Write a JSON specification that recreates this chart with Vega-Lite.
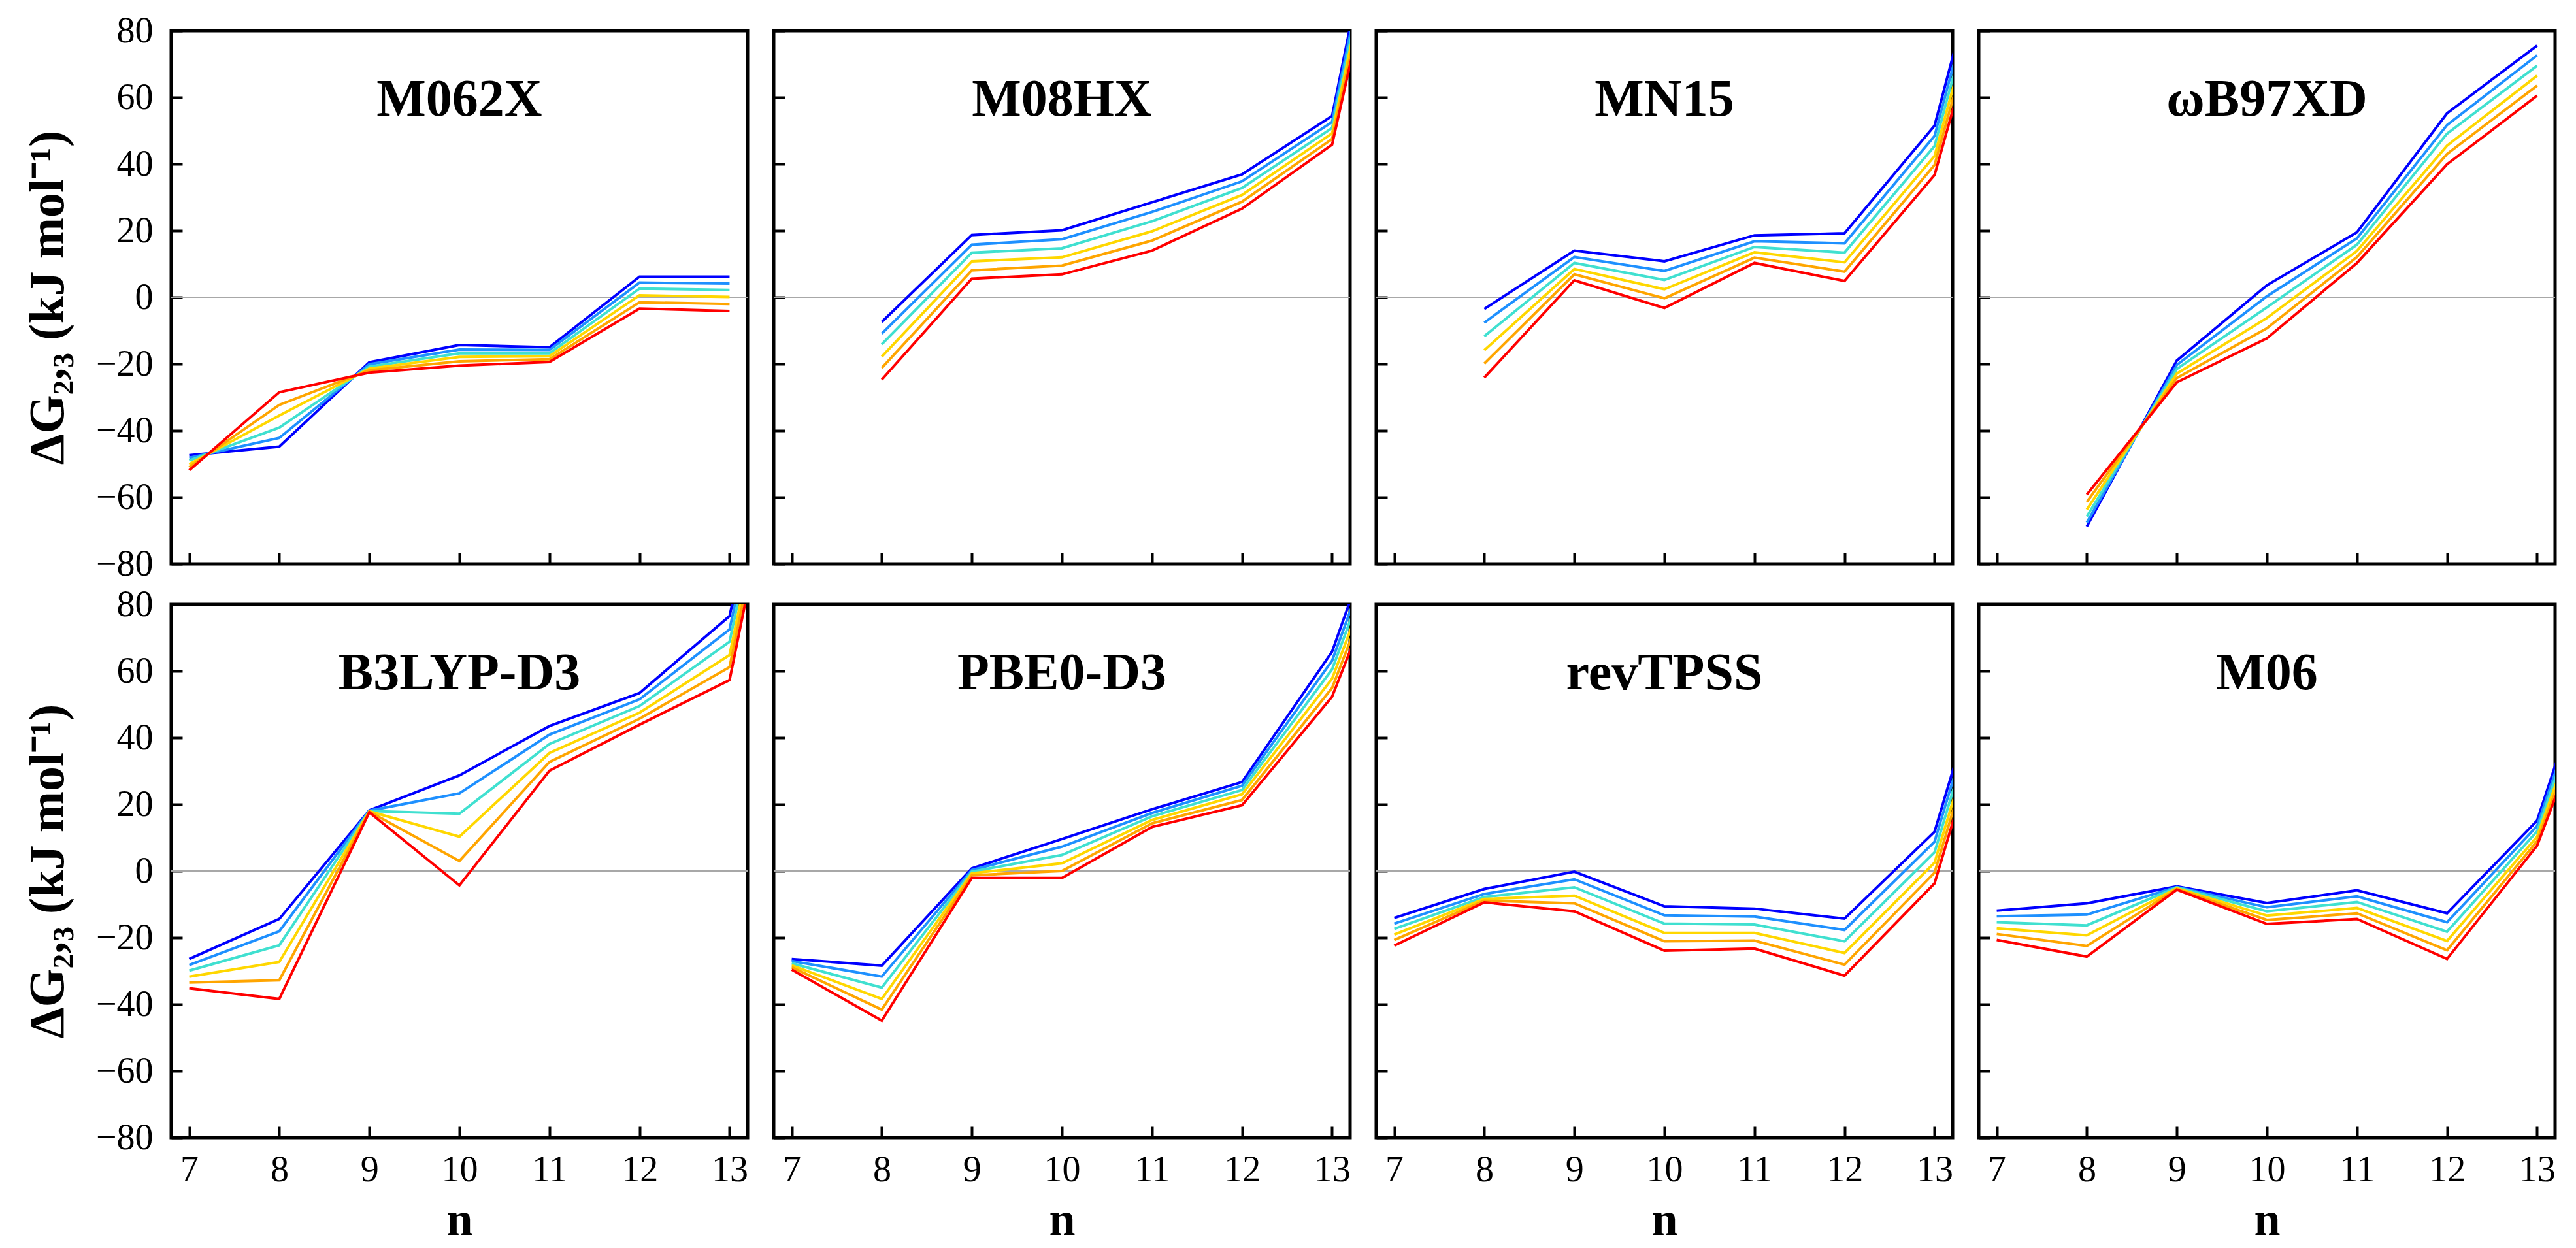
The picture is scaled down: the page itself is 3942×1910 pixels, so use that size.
{
  "$schema": "https://vega.github.io/schema/vega-lite/v6.json",
  "padding": {"left": 32, "top": 16, "right": 5, "bottom": 5},
  "background": "white",
  "data": {"values": [
    {"m":"M062X","c":1,"n":7,"v":-47.4},{"m":"M062X","c":1,"n":8,"v":-44.8},{"m":"M062X","c":1,"n":9,"v":-19.5},{"m":"M062X","c":1,"n":10,"v":-14.3},{"m":"M062X","c":1,"n":11,"v":-15.0},{"m":"M062X","c":1,"n":12,"v":6.2},{"m":"M062X","c":1,"n":13,"v":6.2},
    {"m":"M062X","c":2,"n":7,"v":-48.2},{"m":"M062X","c":2,"n":8,"v":-42.2},{"m":"M062X","c":2,"n":9,"v":-20.1},{"m":"M062X","c":2,"n":10,"v":-15.7},{"m":"M062X","c":2,"n":11,"v":-15.8},{"m":"M062X","c":2,"n":12,"v":4.4},{"m":"M062X","c":2,"n":13,"v":4.1},
    {"m":"M062X","c":3,"n":7,"v":-49.0},{"m":"M062X","c":3,"n":8,"v":-39.1},{"m":"M062X","c":3,"n":9,"v":-20.8},{"m":"M062X","c":3,"n":10,"v":-16.8},{"m":"M062X","c":3,"n":11,"v":-16.8},{"m":"M062X","c":3,"n":12,"v":2.6},{"m":"M062X","c":3,"n":13,"v":2.2},
    {"m":"M062X","c":4,"n":7,"v":-50.1},{"m":"M062X","c":4,"n":8,"v":-35.5},{"m":"M062X","c":4,"n":9,"v":-21.4},{"m":"M062X","c":4,"n":10,"v":-17.9},{"m":"M062X","c":4,"n":11,"v":-17.7},{"m":"M062X","c":4,"n":12,"v":0.6},{"m":"M062X","c":4,"n":13,"v":0.1},
    {"m":"M062X","c":5,"n":7,"v":-51.0},{"m":"M062X","c":5,"n":8,"v":-32.3},{"m":"M062X","c":5,"n":9,"v":-21.9},{"m":"M062X","c":5,"n":10,"v":-19.2},{"m":"M062X","c":5,"n":11,"v":-18.6},{"m":"M062X","c":5,"n":12,"v":-1.5},{"m":"M062X","c":5,"n":13,"v":-2.0},
    {"m":"M062X","c":6,"n":7,"v":-51.9},{"m":"M062X","c":6,"n":8,"v":-28.5},{"m":"M062X","c":6,"n":9,"v":-22.6},{"m":"M062X","c":6,"n":10,"v":-20.5},{"m":"M062X","c":6,"n":11,"v":-19.4},{"m":"M062X","c":6,"n":12,"v":-3.4},{"m":"M062X","c":6,"n":13,"v":-4.1},

    {"m":"M08HX","c":1,"n":8,"v":-7.4},{"m":"M08HX","c":1,"n":9,"v":18.7},{"m":"M08HX","c":1,"n":10,"v":20.1},{"m":"M08HX","c":1,"n":11,"v":28.5},{"m":"M08HX","c":1,"n":12,"v":36.9},{"m":"M08HX","c":1,"n":13,"v":54.4},{"m":"M08HX","c":1,"n":14,"v":188},
    {"m":"M08HX","c":2,"n":8,"v":-10.9},{"m":"M08HX","c":2,"n":9,"v":15.8},{"m":"M08HX","c":2,"n":10,"v":17.4},{"m":"M08HX","c":2,"n":11,"v":25.6},{"m":"M08HX","c":2,"n":12,"v":34.8},{"m":"M08HX","c":2,"n":13,"v":52.6},{"m":"M08HX","c":2,"n":14,"v":184},
    {"m":"M08HX","c":3,"n":8,"v":-14.1},{"m":"M08HX","c":3,"n":9,"v":13.4},{"m":"M08HX","c":3,"n":10,"v":14.7},{"m":"M08HX","c":3,"n":11,"v":22.8},{"m":"M08HX","c":3,"n":12,"v":32.8},{"m":"M08HX","c":3,"n":13,"v":50.8},{"m":"M08HX","c":3,"n":14,"v":179},
    {"m":"M08HX","c":4,"n":8,"v":-17.8},{"m":"M08HX","c":4,"n":9,"v":10.8},{"m":"M08HX","c":4,"n":10,"v":12.0},{"m":"M08HX","c":4,"n":11,"v":19.8},{"m":"M08HX","c":4,"n":12,"v":30.7},{"m":"M08HX","c":4,"n":13,"v":49.2},{"m":"M08HX","c":4,"n":14,"v":175},
    {"m":"M08HX","c":5,"n":8,"v":-21.2},{"m":"M08HX","c":5,"n":9,"v":8.1},{"m":"M08HX","c":5,"n":10,"v":9.5},{"m":"M08HX","c":5,"n":11,"v":17.0},{"m":"M08HX","c":5,"n":12,"v":28.7},{"m":"M08HX","c":5,"n":13,"v":47.5},{"m":"M08HX","c":5,"n":14,"v":170},
    {"m":"M08HX","c":6,"n":8,"v":-24.7},{"m":"M08HX","c":6,"n":9,"v":5.6},{"m":"M08HX","c":6,"n":10,"v":6.9},{"m":"M08HX","c":6,"n":11,"v":14.0},{"m":"M08HX","c":6,"n":12,"v":26.6},{"m":"M08HX","c":6,"n":13,"v":45.8},{"m":"M08HX","c":6,"n":14,"v":166},

    {"m":"MN15","c":1,"n":8,"v":-3.5},{"m":"MN15","c":1,"n":9,"v":14.0},{"m":"MN15","c":1,"n":10,"v":10.8},{"m":"MN15","c":1,"n":11,"v":18.6},{"m":"MN15","c":1,"n":12,"v":19.2},{"m":"MN15","c":1,"n":13,"v":51.5},{"m":"MN15","c":1,"n":14,"v":154},
    {"m":"MN15","c":2,"n":8,"v":-7.6},{"m":"MN15","c":2,"n":9,"v":12.1},{"m":"MN15","c":2,"n":10,"v":7.9},{"m":"MN15","c":2,"n":11,"v":16.8},{"m":"MN15","c":2,"n":12,"v":16.2},{"m":"MN15","c":2,"n":13,"v":48.4},{"m":"MN15","c":2,"n":14,"v":150},
    {"m":"MN15","c":3,"n":8,"v":-11.7},{"m":"MN15","c":3,"n":9,"v":10.3},{"m":"MN15","c":3,"n":10,"v":5.2},{"m":"MN15","c":3,"n":11,"v":15.1},{"m":"MN15","c":3,"n":12,"v":13.4},{"m":"MN15","c":3,"n":13,"v":45.4},{"m":"MN15","c":3,"n":14,"v":146},
    {"m":"MN15","c":4,"n":8,"v":-15.9},{"m":"MN15","c":4,"n":9,"v":8.5},{"m":"MN15","c":4,"n":10,"v":2.4},{"m":"MN15","c":4,"n":11,"v":13.5},{"m":"MN15","c":4,"n":12,"v":10.5},{"m":"MN15","c":4,"n":13,"v":42.4},{"m":"MN15","c":4,"n":14,"v":142},
    {"m":"MN15","c":5,"n":8,"v":-19.9},{"m":"MN15","c":5,"n":9,"v":6.9},{"m":"MN15","c":5,"n":10,"v":-0.3},{"m":"MN15","c":5,"n":11,"v":11.9},{"m":"MN15","c":5,"n":12,"v":7.7},{"m":"MN15","c":5,"n":13,"v":39.7},{"m":"MN15","c":5,"n":14,"v":137},
    {"m":"MN15","c":6,"n":8,"v":-24.1},{"m":"MN15","c":6,"n":9,"v":5.1},{"m":"MN15","c":6,"n":10,"v":-3.2},{"m":"MN15","c":6,"n":11,"v":10.3},{"m":"MN15","c":6,"n":12,"v":4.9},{"m":"MN15","c":6,"n":13,"v":36.7},{"m":"MN15","c":6,"n":14,"v":133},

    {"m":"ωB97XD","c":1,"n":8,"v":-68.8},{"m":"ωB97XD","c":1,"n":9,"v":-19.0},{"m":"ωB97XD","c":1,"n":10,"v":3.6},{"m":"ωB97XD","c":1,"n":11,"v":19.5},{"m":"ωB97XD","c":1,"n":12,"v":55.2},{"m":"ωB97XD","c":1,"n":13,"v":75.5},
    {"m":"ωB97XD","c":2,"n":8,"v":-67.6},{"m":"ωB97XD","c":2,"n":9,"v":-20.3},{"m":"ωB97XD","c":2,"n":10,"v":0.3},{"m":"ωB97XD","c":2,"n":11,"v":17.7},{"m":"ωB97XD","c":2,"n":12,"v":51.7},{"m":"ωB97XD","c":2,"n":13,"v":72.6},
    {"m":"ωB97XD","c":3,"n":8,"v":-65.8},{"m":"ωB97XD","c":3,"n":9,"v":-21.5},{"m":"ωB97XD","c":3,"n":10,"v":-3.0},{"m":"ωB97XD","c":3,"n":11,"v":15.8},{"m":"ωB97XD","c":3,"n":12,"v":49.1},{"m":"ωB97XD","c":3,"n":13,"v":69.5},
    {"m":"ωB97XD","c":4,"n":8,"v":-63.7},{"m":"ωB97XD","c":4,"n":9,"v":-22.9},{"m":"ωB97XD","c":4,"n":10,"v":-6.2},{"m":"ωB97XD","c":4,"n":11,"v":13.9},{"m":"ωB97XD","c":4,"n":12,"v":45.5},{"m":"ωB97XD","c":4,"n":13,"v":66.5},
    {"m":"ωB97XD","c":5,"n":8,"v":-61.4},{"m":"ωB97XD","c":5,"n":9,"v":-24.2},{"m":"ωB97XD","c":5,"n":10,"v":-9.3},{"m":"ωB97XD","c":5,"n":11,"v":12.1},{"m":"ωB97XD","c":5,"n":12,"v":43.0},{"m":"ωB97XD","c":5,"n":13,"v":63.5},
    {"m":"ωB97XD","c":6,"n":8,"v":-59.2},{"m":"ωB97XD","c":6,"n":9,"v":-25.5},{"m":"ωB97XD","c":6,"n":10,"v":-12.3},{"m":"ωB97XD","c":6,"n":11,"v":10.3},{"m":"ωB97XD","c":6,"n":12,"v":39.9},{"m":"ωB97XD","c":6,"n":13,"v":60.5},

    {"m":"B3LYP-D3","c":1,"n":7,"v":-26.4},{"m":"B3LYP-D3","c":1,"n":8,"v":-14.4},{"m":"B3LYP-D3","c":1,"n":9,"v":18.2},{"m":"B3LYP-D3","c":1,"n":10,"v":28.7},{"m":"B3LYP-D3","c":1,"n":11,"v":43.5},{"m":"B3LYP-D3","c":1,"n":12,"v":53.4},{"m":"B3LYP-D3","c":1,"n":13,"v":76.5},{"m":"B3LYP-D3","c":1,"n":14,"v":200},
    {"m":"B3LYP-D3","c":2,"n":7,"v":-28.2},{"m":"B3LYP-D3","c":2,"n":8,"v":-18.1},{"m":"B3LYP-D3","c":2,"n":9,"v":18.1},{"m":"B3LYP-D3","c":2,"n":10,"v":23.3},{"m":"B3LYP-D3","c":2,"n":11,"v":40.9},{"m":"B3LYP-D3","c":2,"n":12,"v":51.5},{"m":"B3LYP-D3","c":2,"n":13,"v":72.5},{"m":"B3LYP-D3","c":2,"n":14,"v":198},
    {"m":"B3LYP-D3","c":3,"n":7,"v":-29.9},{"m":"B3LYP-D3","c":3,"n":8,"v":-22.3},{"m":"B3LYP-D3","c":3,"n":9,"v":18.0},{"m":"B3LYP-D3","c":3,"n":10,"v":17.2},{"m":"B3LYP-D3","c":3,"n":11,"v":38.1},{"m":"B3LYP-D3","c":3,"n":12,"v":49.5},{"m":"B3LYP-D3","c":3,"n":13,"v":68.8},{"m":"B3LYP-D3","c":3,"n":14,"v":196},
    {"m":"B3LYP-D3","c":4,"n":7,"v":-31.7},{"m":"B3LYP-D3","c":4,"n":8,"v":-27.3},{"m":"B3LYP-D3","c":4,"n":9,"v":17.9},{"m":"B3LYP-D3","c":4,"n":10,"v":10.3},{"m":"B3LYP-D3","c":4,"n":11,"v":35.4},{"m":"B3LYP-D3","c":4,"n":12,"v":47.5},{"m":"B3LYP-D3","c":4,"n":13,"v":64.8},{"m":"B3LYP-D3","c":4,"n":14,"v":194},
    {"m":"B3LYP-D3","c":5,"n":7,"v":-33.5},{"m":"B3LYP-D3","c":5,"n":8,"v":-32.8},{"m":"B3LYP-D3","c":5,"n":9,"v":17.8},{"m":"B3LYP-D3","c":5,"n":10,"v":3.0},{"m":"B3LYP-D3","c":5,"n":11,"v":32.7},{"m":"B3LYP-D3","c":5,"n":12,"v":45.7},{"m":"B3LYP-D3","c":5,"n":13,"v":61.2},{"m":"B3LYP-D3","c":5,"n":14,"v":192},
    {"m":"B3LYP-D3","c":6,"n":7,"v":-35.2},{"m":"B3LYP-D3","c":6,"n":8,"v":-38.4},{"m":"B3LYP-D3","c":6,"n":9,"v":17.6},{"m":"B3LYP-D3","c":6,"n":10,"v":-4.3},{"m":"B3LYP-D3","c":6,"n":11,"v":30.1},{"m":"B3LYP-D3","c":6,"n":12,"v":43.9},{"m":"B3LYP-D3","c":6,"n":13,"v":57.3},{"m":"B3LYP-D3","c":6,"n":14,"v":190},

    {"m":"PBE0-D3","c":1,"n":7,"v":-26.4},{"m":"PBE0-D3","c":1,"n":8,"v":-28.4},{"m":"PBE0-D3","c":1,"n":9,"v":0.8},{"m":"PBE0-D3","c":1,"n":10,"v":9.6},{"m":"PBE0-D3","c":1,"n":11,"v":18.5},{"m":"PBE0-D3","c":1,"n":12,"v":26.7},{"m":"PBE0-D3","c":1,"n":13,"v":65.8},{"m":"PBE0-D3","c":1,"n":14,"v":142},
    {"m":"PBE0-D3","c":2,"n":7,"v":-27.0},{"m":"PBE0-D3","c":2,"n":8,"v":-31.7},{"m":"PBE0-D3","c":2,"n":9,"v":0.3},{"m":"PBE0-D3","c":2,"n":10,"v":7.3},{"m":"PBE0-D3","c":2,"n":11,"v":17.4},{"m":"PBE0-D3","c":2,"n":12,"v":25.6},{"m":"PBE0-D3","c":2,"n":13,"v":63.1},{"m":"PBE0-D3","c":2,"n":14,"v":137},
    {"m":"PBE0-D3","c":3,"n":7,"v":-27.7},{"m":"PBE0-D3","c":3,"n":8,"v":-35.0},{"m":"PBE0-D3","c":3,"n":9,"v":-0.2},{"m":"PBE0-D3","c":3,"n":10,"v":4.8},{"m":"PBE0-D3","c":3,"n":11,"v":16.4},{"m":"PBE0-D3","c":3,"n":12,"v":24.3},{"m":"PBE0-D3","c":3,"n":13,"v":60.5},{"m":"PBE0-D3","c":3,"n":14,"v":133},
    {"m":"PBE0-D3","c":4,"n":7,"v":-28.3},{"m":"PBE0-D3","c":4,"n":8,"v":-38.4},{"m":"PBE0-D3","c":4,"n":9,"v":-0.7},{"m":"PBE0-D3","c":4,"n":10,"v":2.3},{"m":"PBE0-D3","c":4,"n":11,"v":15.3},{"m":"PBE0-D3","c":4,"n":12,"v":23.0},{"m":"PBE0-D3","c":4,"n":13,"v":57.7},{"m":"PBE0-D3","c":4,"n":14,"v":129},
    {"m":"PBE0-D3","c":5,"n":7,"v":-28.9},{"m":"PBE0-D3","c":5,"n":8,"v":-41.6},{"m":"PBE0-D3","c":5,"n":9,"v":-1.3},{"m":"PBE0-D3","c":5,"n":10,"v":0.0},{"m":"PBE0-D3","c":5,"n":11,"v":14.3},{"m":"PBE0-D3","c":5,"n":12,"v":21.3},{"m":"PBE0-D3","c":5,"n":13,"v":54.9},{"m":"PBE0-D3","c":5,"n":14,"v":125},
    {"m":"PBE0-D3","c":6,"n":7,"v":-29.6},{"m":"PBE0-D3","c":6,"n":8,"v":-44.9},{"m":"PBE0-D3","c":6,"n":9,"v":-2.1},{"m":"PBE0-D3","c":6,"n":10,"v":-2.1},{"m":"PBE0-D3","c":6,"n":11,"v":13.2},{"m":"PBE0-D3","c":6,"n":12,"v":19.7},{"m":"PBE0-D3","c":6,"n":13,"v":52.3},{"m":"PBE0-D3","c":6,"n":14,"v":121},

    {"m":"revTPSS","c":1,"n":7,"v":-14.1},{"m":"revTPSS","c":1,"n":8,"v":-5.4},{"m":"revTPSS","c":1,"n":9,"v":-0.2},{"m":"revTPSS","c":1,"n":10,"v":-10.6},{"m":"revTPSS","c":1,"n":11,"v":-11.3},{"m":"revTPSS","c":1,"n":12,"v":-14.3},{"m":"revTPSS","c":1,"n":13,"v":11.8},{"m":"revTPSS","c":1,"n":14,"v":102},
    {"m":"revTPSS","c":2,"n":7,"v":-15.8},{"m":"revTPSS","c":2,"n":8,"v":-6.9},{"m":"revTPSS","c":2,"n":9,"v":-2.5},{"m":"revTPSS","c":2,"n":10,"v":-13.3},{"m":"revTPSS","c":2,"n":11,"v":-13.7},{"m":"revTPSS","c":2,"n":12,"v":-17.7},{"m":"revTPSS","c":2,"n":13,"v":8.8},{"m":"revTPSS","c":2,"n":14,"v":99},
    {"m":"revTPSS","c":3,"n":7,"v":-17.4},{"m":"revTPSS","c":3,"n":8,"v":-7.8},{"m":"revTPSS","c":3,"n":9,"v":-4.9},{"m":"revTPSS","c":3,"n":10,"v":-15.8},{"m":"revTPSS","c":3,"n":11,"v":-16.1},{"m":"revTPSS","c":3,"n":12,"v":-21.1},{"m":"revTPSS","c":3,"n":13,"v":5.6},{"m":"revTPSS","c":3,"n":14,"v":96},
    {"m":"revTPSS","c":4,"n":7,"v":-19.1},{"m":"revTPSS","c":4,"n":8,"v":-8.4},{"m":"revTPSS","c":4,"n":9,"v":-7.4},{"m":"revTPSS","c":4,"n":10,"v":-18.6},{"m":"revTPSS","c":4,"n":11,"v":-18.6},{"m":"revTPSS","c":4,"n":12,"v":-24.6},{"m":"revTPSS","c":4,"n":13,"v":2.5},{"m":"revTPSS","c":4,"n":14,"v":93},
    {"m":"revTPSS","c":5,"n":7,"v":-20.7},{"m":"revTPSS","c":5,"n":8,"v":-8.9},{"m":"revTPSS","c":5,"n":9,"v":-9.7},{"m":"revTPSS","c":5,"n":10,"v":-21.1},{"m":"revTPSS","c":5,"n":11,"v":-20.9},{"m":"revTPSS","c":5,"n":12,"v":-28.1},{"m":"revTPSS","c":5,"n":13,"v":-0.5},{"m":"revTPSS","c":5,"n":14,"v":90},
    {"m":"revTPSS","c":6,"n":7,"v":-22.4},{"m":"revTPSS","c":6,"n":8,"v":-9.4},{"m":"revTPSS","c":6,"n":9,"v":-12.1},{"m":"revTPSS","c":6,"n":10,"v":-23.9},{"m":"revTPSS","c":6,"n":11,"v":-23.3},{"m":"revTPSS","c":6,"n":12,"v":-31.4},{"m":"revTPSS","c":6,"n":13,"v":-3.7},{"m":"revTPSS","c":6,"n":14,"v":87},

    {"m":"M06","c":1,"n":7,"v":-11.9},{"m":"M06","c":1,"n":8,"v":-9.7},{"m":"M06","c":1,"n":9,"v":-4.6},{"m":"M06","c":1,"n":10,"v":-9.6},{"m":"M06","c":1,"n":11,"v":-5.8},{"m":"M06","c":1,"n":12,"v":-12.7},{"m":"M06","c":1,"n":13,"v":15.1},{"m":"M06","c":1,"n":14,"v":97},
    {"m":"M06","c":2,"n":7,"v":-13.6},{"m":"M06","c":2,"n":8,"v":-13.1},{"m":"M06","c":2,"n":9,"v":-4.8},{"m":"M06","c":2,"n":10,"v":-10.9},{"m":"M06","c":2,"n":11,"v":-7.6},{"m":"M06","c":2,"n":12,"v":-15.4},{"m":"M06","c":2,"n":13,"v":13.5},{"m":"M06","c":2,"n":14,"v":93},
    {"m":"M06","c":3,"n":7,"v":-15.4},{"m":"M06","c":3,"n":8,"v":-16.3},{"m":"M06","c":3,"n":9,"v":-4.9},{"m":"M06","c":3,"n":10,"v":-12.1},{"m":"M06","c":3,"n":11,"v":-9.3},{"m":"M06","c":3,"n":12,"v":-18.2},{"m":"M06","c":3,"n":13,"v":11.9},{"m":"M06","c":3,"n":14,"v":90},
    {"m":"M06","c":4,"n":7,"v":-17.2},{"m":"M06","c":4,"n":8,"v":-19.3},{"m":"M06","c":4,"n":9,"v":-5.2},{"m":"M06","c":4,"n":10,"v":-13.4},{"m":"M06","c":4,"n":11,"v":-11.1},{"m":"M06","c":4,"n":12,"v":-21.0},{"m":"M06","c":4,"n":13,"v":10.3},{"m":"M06","c":4,"n":14,"v":86},
    {"m":"M06","c":5,"n":7,"v":-18.9},{"m":"M06","c":5,"n":8,"v":-22.5},{"m":"M06","c":5,"n":9,"v":-5.4},{"m":"M06","c":5,"n":10,"v":-14.7},{"m":"M06","c":5,"n":11,"v":-12.7},{"m":"M06","c":5,"n":12,"v":-23.8},{"m":"M06","c":5,"n":13,"v":8.9},{"m":"M06","c":5,"n":14,"v":82},
    {"m":"M06","c":6,"n":7,"v":-20.7},{"m":"M06","c":6,"n":8,"v":-25.7},{"m":"M06","c":6,"n":9,"v":-5.6},{"m":"M06","c":6,"n":10,"v":-15.9},{"m":"M06","c":6,"n":11,"v":-14.4},{"m":"M06","c":6,"n":12,"v":-26.4},{"m":"M06","c":6,"n":13,"v":7.6},{"m":"M06","c":6,"n":14,"v":79}
  ]},
  "spacing": 0,
  "vconcat": [
    {"spacing": 40, "bounds": "flush", "hconcat": [
      {"width": 882, "height": 816, "transform": [{"filter": "datum.m === 'M062X'"}], "layer": [
        {"mark": {"type": "rule", "color": "#a8a8a8", "strokeWidth": 2}, "encoding": {"y": {"datum": 0, "type": "quantitative", "scale": {"domain": [-80, 80], "nice": false}}}},
        {"mark": {"type": "line", "strokeWidth": 4, "clip": true}, "encoding": {
          "x": {"field": "n", "type": "quantitative", "scale": {"domain": [6.8, 13.2], "nice": false, "zero": false}, "axis": {"values": [7,8,9,10,11,12,13], "format": "d", "labels": false, "title": null}},
          "y": {"field": "v", "type": "quantitative", "scale": {"domain": [-80, 80], "nice": false}, "axis": {"values": [-80,-60,-40,-20,0,20,40,60,80], "format": "d", "title": "ΔG₂,₃ (kJ mol⁻¹)"}},
          "color": {"field": "c", "type": "nominal", "scale": {"domain": [1,2,3,4,5,6], "range": ["#0000ff","#1e90ff","#40e0d0","#ffd700","#ffa500","#ff0000"]}, "legend": null}}},
        {"transform": [{"aggregate": [{"op": "count", "as": "k"}], "groupby": ["m"]}], "mark": {"type": "text", "font": "Liberation Serif", "fontWeight": "bold", "fontSize": 80, "baseline": "alphabetic", "align": "center", "color": "black"}, "encoding": {
          "x": {"datum": 10, "type": "quantitative", "scale": {"domain": [6.8, 13.2], "nice": false, "zero": false}},
          "y": {"datum": 54.5, "type": "quantitative", "scale": {"domain": [-80, 80], "nice": false}},
          "text": {"field": "m"}}}
      ]},
      {"width": 882, "height": 816, "transform": [{"filter": "datum.m === 'M08HX'"}], "layer": [
        {"mark": {"type": "rule", "color": "#a8a8a8", "strokeWidth": 2}, "encoding": {"y": {"datum": 0, "type": "quantitative", "scale": {"domain": [-80, 80], "nice": false}}}},
        {"mark": {"type": "line", "strokeWidth": 4, "clip": true}, "encoding": {
          "x": {"field": "n", "type": "quantitative", "scale": {"domain": [6.8, 13.2], "nice": false, "zero": false}, "axis": {"values": [7,8,9,10,11,12,13], "format": "d", "labels": false, "title": null}},
          "y": {"field": "v", "type": "quantitative", "scale": {"domain": [-80, 80], "nice": false}, "axis": {"values": [-80,-60,-40,-20,0,20,40,60,80], "format": "d", "labels": false, "title": null}},
          "color": {"field": "c", "type": "nominal", "scale": {"domain": [1,2,3,4,5,6], "range": ["#0000ff","#1e90ff","#40e0d0","#ffd700","#ffa500","#ff0000"]}, "legend": null}}},
        {"transform": [{"aggregate": [{"op": "count", "as": "k"}], "groupby": ["m"]}], "mark": {"type": "text", "font": "Liberation Serif", "fontWeight": "bold", "fontSize": 80, "baseline": "alphabetic", "align": "center", "color": "black"}, "encoding": {
          "x": {"datum": 10, "type": "quantitative", "scale": {"domain": [6.8, 13.2], "nice": false, "zero": false}},
          "y": {"datum": 54.5, "type": "quantitative", "scale": {"domain": [-80, 80], "nice": false}},
          "text": {"field": "m"}}}
      ]},
      {"width": 882, "height": 816, "transform": [{"filter": "datum.m === 'MN15'"}], "layer": [
        {"mark": {"type": "rule", "color": "#a8a8a8", "strokeWidth": 2}, "encoding": {"y": {"datum": 0, "type": "quantitative", "scale": {"domain": [-80, 80], "nice": false}}}},
        {"mark": {"type": "line", "strokeWidth": 4, "clip": true}, "encoding": {
          "x": {"field": "n", "type": "quantitative", "scale": {"domain": [6.8, 13.2], "nice": false, "zero": false}, "axis": {"values": [7,8,9,10,11,12,13], "format": "d", "labels": false, "title": null}},
          "y": {"field": "v", "type": "quantitative", "scale": {"domain": [-80, 80], "nice": false}, "axis": {"values": [-80,-60,-40,-20,0,20,40,60,80], "format": "d", "labels": false, "title": null}},
          "color": {"field": "c", "type": "nominal", "scale": {"domain": [1,2,3,4,5,6], "range": ["#0000ff","#1e90ff","#40e0d0","#ffd700","#ffa500","#ff0000"]}, "legend": null}}},
        {"transform": [{"aggregate": [{"op": "count", "as": "k"}], "groupby": ["m"]}], "mark": {"type": "text", "font": "Liberation Serif", "fontWeight": "bold", "fontSize": 80, "baseline": "alphabetic", "align": "center", "color": "black"}, "encoding": {
          "x": {"datum": 10, "type": "quantitative", "scale": {"domain": [6.8, 13.2], "nice": false, "zero": false}},
          "y": {"datum": 54.5, "type": "quantitative", "scale": {"domain": [-80, 80], "nice": false}},
          "text": {"field": "m"}}}
      ]},
      {"width": 882, "height": 816, "transform": [{"filter": "datum.m === 'ωB97XD'"}], "layer": [
        {"mark": {"type": "rule", "color": "#a8a8a8", "strokeWidth": 2}, "encoding": {"y": {"datum": 0, "type": "quantitative", "scale": {"domain": [-80, 80], "nice": false}}}},
        {"mark": {"type": "line", "strokeWidth": 4, "clip": true}, "encoding": {
          "x": {"field": "n", "type": "quantitative", "scale": {"domain": [6.8, 13.2], "nice": false, "zero": false}, "axis": {"values": [7,8,9,10,11,12,13], "format": "d", "labels": false, "title": null}},
          "y": {"field": "v", "type": "quantitative", "scale": {"domain": [-80, 80], "nice": false}, "axis": {"values": [-80,-60,-40,-20,0,20,40,60,80], "format": "d", "labels": false, "title": null}},
          "color": {"field": "c", "type": "nominal", "scale": {"domain": [1,2,3,4,5,6], "range": ["#0000ff","#1e90ff","#40e0d0","#ffd700","#ffa500","#ff0000"]}, "legend": null}}},
        {"transform": [{"aggregate": [{"op": "count", "as": "k"}], "groupby": ["m"]}], "mark": {"type": "text", "font": "Liberation Serif", "fontWeight": "bold", "fontSize": 80, "baseline": "alphabetic", "align": "center", "color": "black"}, "encoding": {
          "x": {"datum": 10, "type": "quantitative", "scale": {"domain": [6.8, 13.2], "nice": false, "zero": false}},
          "y": {"datum": 54.5, "type": "quantitative", "scale": {"domain": [-80, 80], "nice": false}},
          "text": {"field": "m"}}}
      ]}
    ]},
    {"spacing": 40, "bounds": "flush", "hconcat": [
      {"width": 882, "height": 816, "transform": [{"filter": "datum.m === 'B3LYP-D3'"}], "layer": [
        {"mark": {"type": "rule", "color": "#a8a8a8", "strokeWidth": 2}, "encoding": {"y": {"datum": 0, "type": "quantitative", "scale": {"domain": [-80, 80], "nice": false}}}},
        {"mark": {"type": "line", "strokeWidth": 4, "clip": true}, "encoding": {
          "x": {"field": "n", "type": "quantitative", "scale": {"domain": [6.8, 13.2], "nice": false, "zero": false}, "axis": {"values": [7,8,9,10,11,12,13], "format": "d", "title": "n"}},
          "y": {"field": "v", "type": "quantitative", "scale": {"domain": [-80, 80], "nice": false}, "axis": {"values": [-80,-60,-40,-20,0,20,40,60,80], "format": "d", "title": "ΔG₂,₃ (kJ mol⁻¹)"}},
          "color": {"field": "c", "type": "nominal", "scale": {"domain": [1,2,3,4,5,6], "range": ["#0000ff","#1e90ff","#40e0d0","#ffd700","#ffa500","#ff0000"]}, "legend": null}}},
        {"transform": [{"aggregate": [{"op": "count", "as": "k"}], "groupby": ["m"]}], "mark": {"type": "text", "font": "Liberation Serif", "fontWeight": "bold", "fontSize": 80, "baseline": "alphabetic", "align": "center", "color": "black"}, "encoding": {
          "x": {"datum": 10, "type": "quantitative", "scale": {"domain": [6.8, 13.2], "nice": false, "zero": false}},
          "y": {"datum": 54.5, "type": "quantitative", "scale": {"domain": [-80, 80], "nice": false}},
          "text": {"field": "m"}}}
      ]},
      {"width": 882, "height": 816, "transform": [{"filter": "datum.m === 'PBE0-D3'"}], "layer": [
        {"mark": {"type": "rule", "color": "#a8a8a8", "strokeWidth": 2}, "encoding": {"y": {"datum": 0, "type": "quantitative", "scale": {"domain": [-80, 80], "nice": false}}}},
        {"mark": {"type": "line", "strokeWidth": 4, "clip": true}, "encoding": {
          "x": {"field": "n", "type": "quantitative", "scale": {"domain": [6.8, 13.2], "nice": false, "zero": false}, "axis": {"values": [7,8,9,10,11,12,13], "format": "d", "title": "n"}},
          "y": {"field": "v", "type": "quantitative", "scale": {"domain": [-80, 80], "nice": false}, "axis": {"values": [-80,-60,-40,-20,0,20,40,60,80], "format": "d", "labels": false, "title": null}},
          "color": {"field": "c", "type": "nominal", "scale": {"domain": [1,2,3,4,5,6], "range": ["#0000ff","#1e90ff","#40e0d0","#ffd700","#ffa500","#ff0000"]}, "legend": null}}},
        {"transform": [{"aggregate": [{"op": "count", "as": "k"}], "groupby": ["m"]}], "mark": {"type": "text", "font": "Liberation Serif", "fontWeight": "bold", "fontSize": 80, "baseline": "alphabetic", "align": "center", "color": "black"}, "encoding": {
          "x": {"datum": 10, "type": "quantitative", "scale": {"domain": [6.8, 13.2], "nice": false, "zero": false}},
          "y": {"datum": 54.5, "type": "quantitative", "scale": {"domain": [-80, 80], "nice": false}},
          "text": {"field": "m"}}}
      ]},
      {"width": 882, "height": 816, "transform": [{"filter": "datum.m === 'revTPSS'"}], "layer": [
        {"mark": {"type": "rule", "color": "#a8a8a8", "strokeWidth": 2}, "encoding": {"y": {"datum": 0, "type": "quantitative", "scale": {"domain": [-80, 80], "nice": false}}}},
        {"mark": {"type": "line", "strokeWidth": 4, "clip": true}, "encoding": {
          "x": {"field": "n", "type": "quantitative", "scale": {"domain": [6.8, 13.2], "nice": false, "zero": false}, "axis": {"values": [7,8,9,10,11,12,13], "format": "d", "title": "n"}},
          "y": {"field": "v", "type": "quantitative", "scale": {"domain": [-80, 80], "nice": false}, "axis": {"values": [-80,-60,-40,-20,0,20,40,60,80], "format": "d", "labels": false, "title": null}},
          "color": {"field": "c", "type": "nominal", "scale": {"domain": [1,2,3,4,5,6], "range": ["#0000ff","#1e90ff","#40e0d0","#ffd700","#ffa500","#ff0000"]}, "legend": null}}},
        {"transform": [{"aggregate": [{"op": "count", "as": "k"}], "groupby": ["m"]}], "mark": {"type": "text", "font": "Liberation Serif", "fontWeight": "bold", "fontSize": 80, "baseline": "alphabetic", "align": "center", "color": "black"}, "encoding": {
          "x": {"datum": 10, "type": "quantitative", "scale": {"domain": [6.8, 13.2], "nice": false, "zero": false}},
          "y": {"datum": 54.5, "type": "quantitative", "scale": {"domain": [-80, 80], "nice": false}},
          "text": {"field": "m"}}}
      ]},
      {"width": 882, "height": 816, "transform": [{"filter": "datum.m === 'M06'"}], "layer": [
        {"mark": {"type": "rule", "color": "#a8a8a8", "strokeWidth": 2}, "encoding": {"y": {"datum": 0, "type": "quantitative", "scale": {"domain": [-80, 80], "nice": false}}}},
        {"mark": {"type": "line", "strokeWidth": 4, "clip": true}, "encoding": {
          "x": {"field": "n", "type": "quantitative", "scale": {"domain": [6.8, 13.2], "nice": false, "zero": false}, "axis": {"values": [7,8,9,10,11,12,13], "format": "d", "title": "n"}},
          "y": {"field": "v", "type": "quantitative", "scale": {"domain": [-80, 80], "nice": false}, "axis": {"values": [-80,-60,-40,-20,0,20,40,60,80], "format": "d", "labels": false, "title": null}},
          "color": {"field": "c", "type": "nominal", "scale": {"domain": [1,2,3,4,5,6], "range": ["#0000ff","#1e90ff","#40e0d0","#ffd700","#ffa500","#ff0000"]}, "legend": null}}},
        {"transform": [{"aggregate": [{"op": "count", "as": "k"}], "groupby": ["m"]}], "mark": {"type": "text", "font": "Liberation Serif", "fontWeight": "bold", "fontSize": 80, "baseline": "alphabetic", "align": "center", "color": "black"}, "encoding": {
          "x": {"datum": 10, "type": "quantitative", "scale": {"domain": [6.8, 13.2], "nice": false, "zero": false}},
          "y": {"datum": 54.5, "type": "quantitative", "scale": {"domain": [-80, 80], "nice": false}},
          "text": {"field": "m"}}}
      ]}
    ]}
  ],
  "config": {
    "view": {"stroke": "black", "strokeWidth": 5},
    "axis": {"domain": false, "grid": false, "ticks": true, "tickSize": -17, "tickWidth": 4, "tickColor": "black",
      "labelFont": "Liberation Serif", "labelFontSize": 56, "labelColor": "black",
      "labelExpr": "replace(datum.label, '-', '−')",
      "titleFont": "Liberation Serif", "titleFontWeight": "bold", "titleColor": "black"},
    "axisX": {"labelPadding": 39, "titlePadding": 14, "titleFontSize": 72},
    "axisY": {"labelPadding": 45, "titlePadding": 34, "titleFontSize": 76}
  }
}
